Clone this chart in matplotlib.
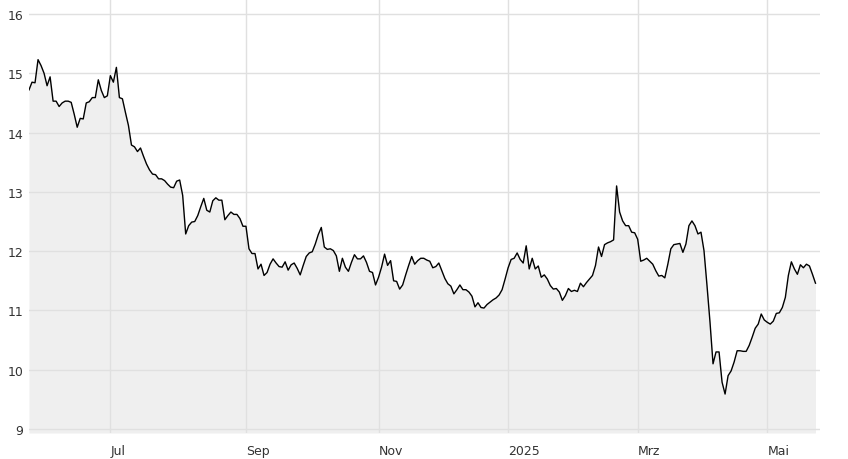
import numpy as np
import pandas as pd
import matplotlib
matplotlib.use("Agg")
import matplotlib.pyplot as plt

start_date = "2024-05-23"
values = [
    14.72, 14.85, 14.84, 15.23, 15.13, 15.00, 14.79, 14.94, 14.53, 14.53,
    14.44, 14.50, 14.53, 14.53, 14.51, 14.31, 14.09, 14.24, 14.23, 14.50,
    14.52, 14.59, 14.59, 14.89, 14.71, 14.59, 14.62, 14.96, 14.85, 15.10,
    14.59, 14.57, 14.34, 14.12, 13.79, 13.76, 13.68, 13.74, 13.60, 13.47,
    13.37, 13.30, 13.29, 13.22, 13.22, 13.19, 13.13, 13.08, 13.07, 13.18,
    13.20, 12.94, 12.29, 12.43, 12.49, 12.50, 12.60, 12.75, 12.89, 12.69,
    12.66, 12.85, 12.90, 12.86, 12.86, 12.53, 12.60, 12.66, 12.62, 12.62,
    12.55, 12.42, 12.42, 12.04, 11.96, 11.96, 11.70, 11.78, 11.59, 11.64,
    11.78, 11.87, 11.80, 11.74, 11.73, 11.82, 11.68, 11.77, 11.80, 11.71,
    11.60, 11.76, 11.91, 11.97, 11.99, 12.12, 12.28, 12.40, 12.07, 12.03,
    12.04, 12.01, 11.92, 11.66, 11.88, 11.73, 11.66, 11.81, 11.94, 11.87,
    11.87, 11.92, 11.81, 11.66, 11.64, 11.43, 11.56, 11.73, 11.95, 11.76,
    11.84, 11.50, 11.49, 11.36, 11.43, 11.60, 11.76, 11.91, 11.78, 11.84,
    11.88, 11.88, 11.85, 11.83, 11.72, 11.74, 11.80, 11.67, 11.54, 11.45,
    11.41, 11.28, 11.35, 11.43, 11.35, 11.35, 11.31, 11.24, 11.06, 11.13,
    11.05, 11.04, 11.10, 11.14, 11.18, 11.21, 11.26, 11.35, 11.53, 11.72,
    11.86, 11.88, 11.97, 11.86, 11.80, 12.09, 11.70, 11.88, 11.70, 11.75,
    11.56, 11.60, 11.53, 11.42, 11.36, 11.37, 11.31, 11.17, 11.25, 11.37,
    11.32, 11.34, 11.32, 11.46, 11.40, 11.47, 11.53, 11.59, 11.76, 12.07,
    11.91, 12.11, 12.14, 12.16, 12.19, 13.10, 12.66, 12.51, 12.43, 12.43,
    12.32, 12.31, 12.20, 11.83, 11.85, 11.88, 11.83, 11.78, 11.67, 11.58,
    11.59, 11.55, 11.78, 12.04, 12.11, 12.12, 12.13, 11.98, 12.12, 12.43,
    12.51, 12.43, 12.29, 12.32, 12.01, 11.42, 10.80, 10.10, 10.30, 10.30,
    9.79, 9.59, 9.90, 9.98, 10.13, 10.32, 10.32, 10.31, 10.31, 10.41,
    10.55, 10.70, 10.77, 10.94, 10.84, 10.80, 10.77, 10.82, 10.95, 10.96,
    11.05, 11.22, 11.59, 11.82, 11.70, 11.61, 11.77, 11.72, 11.78, 11.75,
    11.61, 11.46,
]
tick_dates = ["2024-07-01", "2024-09-01", "2024-11-01", "2025-01-01", "2025-03-01", "2025-05-01"]
tick_labels = ["Jul", "Sep", "Nov", "2025", "Mrz", "Mai"]
y_ticks = [9, 10, 11, 12, 13, 14, 15, 16]

dates = pd.bdate_range(start_date, periods=len(values))
x = np.arange(len(values))
tick_pos = [int(np.searchsorted(dates.values, np.datetime64(d))) for d in tick_dates]

fig = plt.figure(figsize=(8.48, 4.60), dpi=100)
W, H = 848, 460
ax = fig.add_axes([29 / W, 26 / H, (820 - 29) / W, 434 / H])

ymin, ymax = 8.933, 16.253
ax.fill_between(x, values, ymin, color="#efefef", lw=0, zorder=1)
ax.plot(x, values, color="black", lw=1.0, zorder=3)

ax.set_xlim(0, 262.5)
ax.set_ylim(ymin, ymax)
ax.set_yticks(y_ticks)
ax.set_yticklabels([str(v) for v in y_ticks])
ax.set_xticks(tick_pos)
ax.set_xticklabels(tick_labels, ha="left")

ax.set_axisbelow(False)
ax.grid(True, color="#e0e0e0", lw=1.0, zorder=2)
for s in ax.spines.values():
    s.set_visible(False)
ax.tick_params(axis="both", length=0, labelsize=9, labelcolor="#333333")
ax.tick_params(axis="y", pad=4)
ax.tick_params(axis="x", pad=8)

fig.savefig("out.png", dpi=100)
